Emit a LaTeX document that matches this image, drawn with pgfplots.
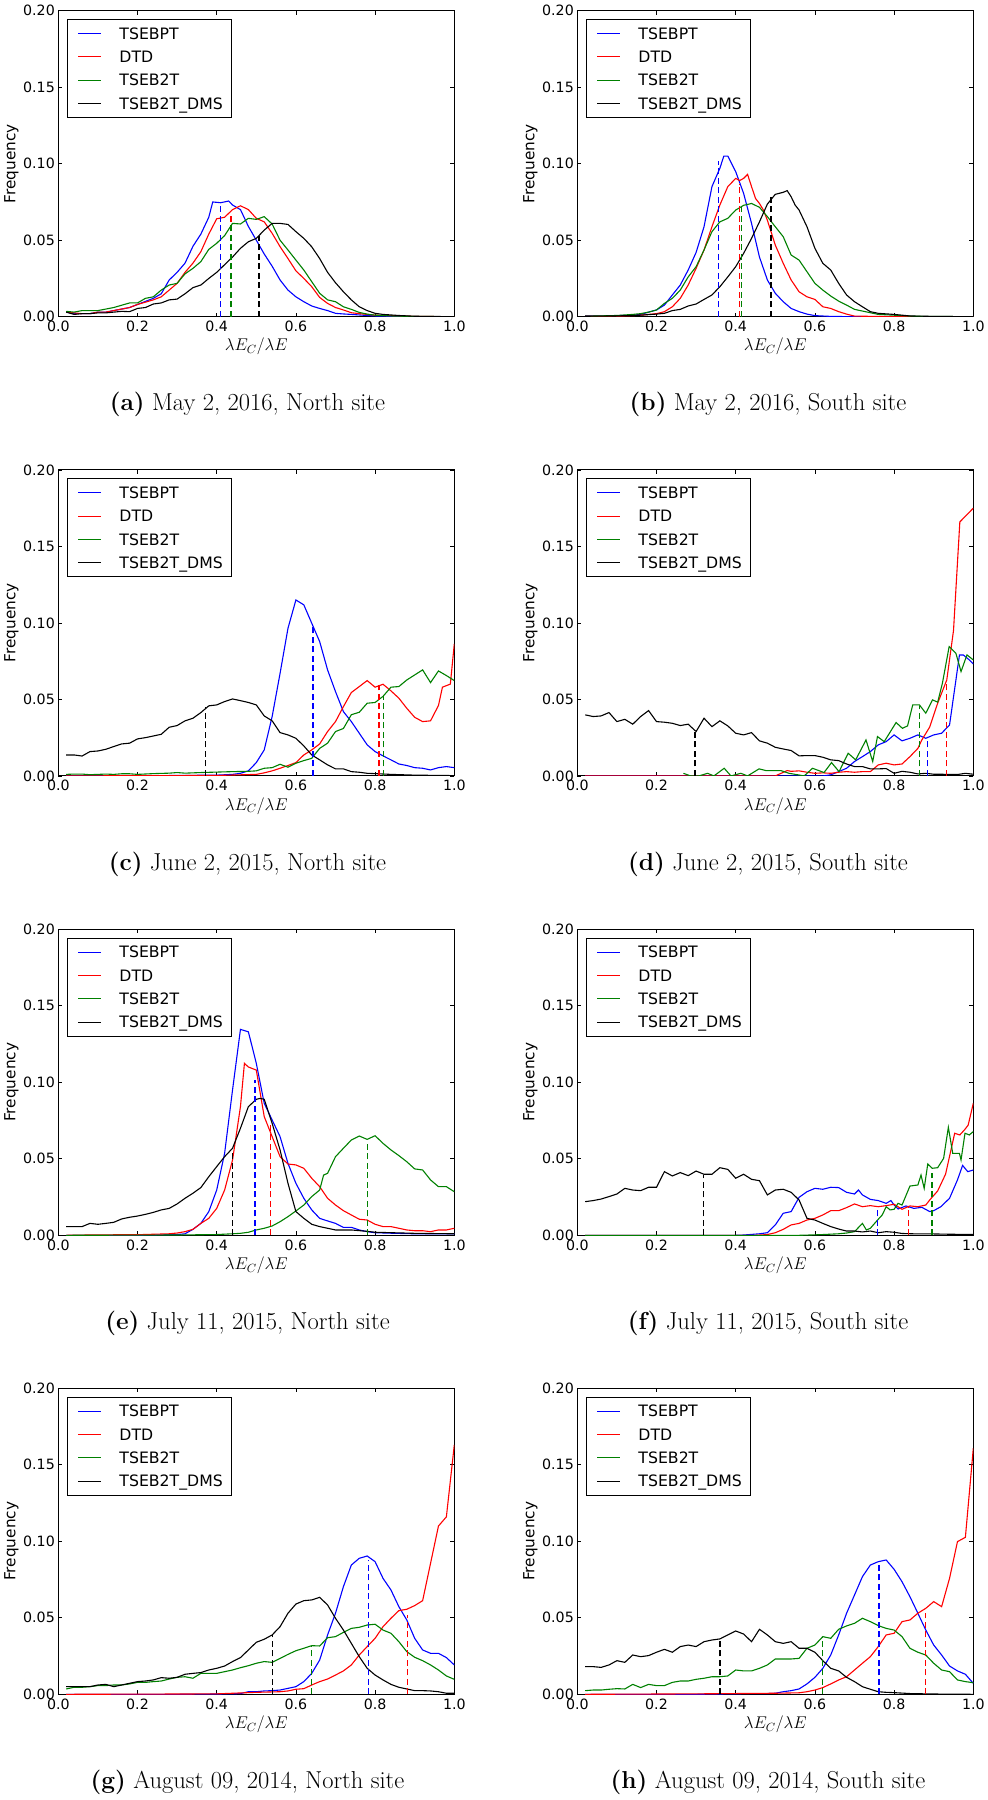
\RequirePackage{fix-cm}
\documentclass[border=0pt]{standalone}
\usepackage{fontspec}
\usepackage{pgfplots}
\pgfplotsset{compat=1.18}
\newfontfamily\dejavu{DejaVu Sans}
\definecolor{mplgreen}{rgb}{0,0.5,0}
\definecolor{mplblue}{rgb}{0,0,1}
\newcommand\tickfont{\dejavu\fontsize{14.2pt}{14.2pt}\selectfont}
\newcommand\legfont{\dejavu\fontsize{15.7pt}{15.7pt}\selectfont}
\newcommand\labfont{\dejavu\fontsize{15.3pt}{15.3pt}\selectfont}
\newcommand\capfont{\fontsize{24.5pt}{29pt}\selectfont}
\pgfplotsset{
  cB/.style={color=mplblue, line width=1.1pt},
  cR/.style={color=red, line width=1.1pt},
  cG/.style={color=mplgreen, line width=1.1pt},
  cK/.style={color=black, line width=1.1pt},
  dsh/.style={line width=1.3pt, dash pattern=on 6pt off 3.5pt, forget plot},
  panel/.style={
    scale only axis, width=396pt, height=306pt,
    xmin=0, xmax=1, ymin=0, ymax=0.2,
    xtick={0,0.2,0.4,0.6,0.8,1}, ytick={0,0.05,0.1,0.15,0.2},
    tick align=inside, major tick length=4pt,
    tick style={black, line width=0.8pt},
    axis line style={black, line width=1pt},
    xticklabel style={font=\tickfont, anchor=north, inner sep=0pt, yshift=-4.3pt,
      /pgf/number format/.cd, fixed, fixed zerofill, precision=1, assume math mode=true},
    yticklabel style={font=\tickfont, anchor=east, inner sep=0pt, xshift=-3.3pt,
      /pgf/number format/.cd, fixed, fixed zerofill, precision=2, assume math mode=true},
    xlabel={$\lambda E_C/\lambda E$},
    ylabel={Frequency},
    every axis x label/.style={at={(axis description cs:0.5,-0.098)}, anchor=center,
      font=\fontsize{17pt}{17pt}\selectfont},
    every axis y label/.style={at={(axis description cs:-0.1187,0.5)}, rotate=90, anchor=center,
      font=\labfont},
    legend style={at={(axis description cs:0.0212,0.9729)}, anchor=north west,
      draw=black, line width=1pt, fill=white,
      inner xsep=8.8pt, inner ysep=8.4pt, row sep=11.9pt, column sep=17.6pt,
      font=\legfont, nodes={inner sep=0pt, text height=11.4pt, text depth=0pt}},
    legend cell align=left,
    legend image code/.code={\path (0pt,0pt); \draw[##1] (1.5pt,0pt) -- (24.8pt,0pt);},
  }
}
\begin{document}
\begin{tikzpicture}
\useasboundingbox (0pt,0pt) rectangle (988pt,-1800pt);

% ---------------- (a)
\begin{axis}[panel, at={(58.3pt,-10.7pt)}, anchor=north west]
\addplot[cB] coordinates {(0.02,0.003)(0.04,0.002)(0.06,0.002)(0.08,0.002)(0.10,0.003)(0.12,0.003)(0.14,0.004)(0.16,0.005)(0.18,0.006)(0.20,0.008)(0.22,0.010)(0.24,0.012)(0.26,0.015)(0.28,0.024)(0.30,0.029)(0.32,0.035)(0.34,0.046)(0.36,0.054)(0.38,0.065)(0.39,0.075)(0.41,0.0745)(0.43,0.0756)(0.44,0.073)(0.46,0.070)(0.48,0.059)(0.50,0.050)(0.52,0.041)(0.54,0.033)(0.56,0.024)(0.58,0.0174)(0.60,0.013)(0.62,0.0098)(0.64,0.007)(0.66,0.0054)(0.68,0.004)(0.70,0.0022)(0.72,0.0018)(0.74,0.0015)(0.78,0.0008)(0.80,0.0005)(0.85,0.0002)(0.90,0)(1.0,0)};
\addplot[cR] coordinates {(0.02,0.003)(0.04,0.0025)(0.06,0.002)(0.08,0.002)(0.10,0.003)(0.12,0.003)(0.14,0.004)(0.16,0.005)(0.18,0.006)(0.20,0.008)(0.22,0.0095)(0.24,0.011)(0.26,0.013)(0.28,0.0174)(0.30,0.0218)(0.32,0.029)(0.34,0.035)(0.36,0.0425)(0.38,0.054)(0.40,0.064)(0.42,0.065)(0.44,0.070)(0.46,0.0725)(0.48,0.070)(0.50,0.0643)(0.52,0.062)(0.54,0.0545)(0.56,0.0458)(0.58,0.038)(0.60,0.030)(0.62,0.025)(0.64,0.0196)(0.66,0.0126)(0.68,0.0087)(0.70,0.006)(0.72,0.0044)(0.74,0.0026)(0.76,0.002)(0.80,0.001)(0.90,0.0002)(1.0,0)};
\addplot[cG] coordinates {(0.02,0.0035)(0.04,0.003)(0.06,0.004)(0.08,0.004)(0.10,0.004)(0.12,0.005)(0.14,0.006)(0.16,0.0075)(0.18,0.009)(0.20,0.009)(0.22,0.012)(0.24,0.013)(0.26,0.0174)(0.28,0.0207)(0.30,0.0218)(0.32,0.028)(0.34,0.0316)(0.36,0.036)(0.38,0.044)(0.40,0.048)(0.42,0.053)(0.44,0.061)(0.46,0.0606)(0.48,0.0643)(0.50,0.0636)(0.52,0.0654)(0.54,0.0606)(0.56,0.050)(0.58,0.0436)(0.60,0.037)(0.62,0.0305)(0.64,0.0229)(0.66,0.0153)(0.68,0.011)(0.70,0.0098)(0.72,0.0065)(0.74,0.0048)(0.76,0.0028)(0.78,0.0017)(0.80,0.001)(0.85,0.0004)(0.90,0.0002)(1.0,0)};
\addplot[cK] coordinates {(0.02,0.003)(0.04,0.0015)(0.06,0.002)(0.08,0.002)(0.10,0.0025)(0.12,0.0025)(0.14,0.003)(0.16,0.0035)(0.18,0.0033)(0.20,0.0054)(0.22,0.006)(0.24,0.0083)(0.26,0.009)(0.28,0.011)(0.30,0.0115)(0.32,0.015)(0.34,0.019)(0.36,0.0207)(0.38,0.025)(0.40,0.029)(0.42,0.034)(0.44,0.039)(0.46,0.0447)(0.48,0.049)(0.50,0.0512)(0.52,0.0566)(0.54,0.061)(0.56,0.061)(0.58,0.0603)(0.60,0.0556)(0.62,0.0512)(0.64,0.0457)(0.66,0.038)(0.68,0.029)(0.70,0.0222)(0.72,0.0163)(0.74,0.011)(0.76,0.0065)(0.78,0.004)(0.80,0.0022)(0.82,0.0015)(0.86,0.0008)(0.90,0.0003)(1.0,0)};
\legend{TSEBPT,DTD,TSEB2T,TSEB2T\_DMS}
\addplot[cB,dsh] coordinates {(0.410,0)(0.410,0.0745)};
\addplot[cR,dsh] coordinates {(0.436,0)(0.436,0.066)};
\addplot[cG,dsh] coordinates {(0.436,0)(0.436,0.061)};
\addplot[cK,dsh] coordinates {(0.507,0)(0.507,0.053)};
\end{axis}

% ---------------- (b)
\begin{axis}[panel, at={(577.3pt,-10.7pt)}, anchor=north west]
\addplot[cB] coordinates {(0.02,0.0005)(0.06,0.0005)(0.10,0.0007)(0.14,0.001)(0.16,0.0015)(0.18,0.003)(0.20,0.0044)(0.22,0.0076)(0.24,0.0142)(0.26,0.0207)(0.28,0.0305)(0.30,0.042)(0.32,0.0588)(0.34,0.085)(0.36,0.097)(0.37,0.105)(0.38,0.105)(0.40,0.0948)(0.42,0.0806)(0.44,0.061)(0.46,0.039)(0.48,0.024)(0.50,0.0153)(0.52,0.0098)(0.54,0.0054)(0.56,0.0033)(0.58,0.0017)(0.60,0.0007)(0.64,0.0002)(0.70,0)(1.0,0)};
\addplot[cR] coordinates {(0.02,0.0003)(0.08,0.0003)(0.12,0.0005)(0.16,0.001)(0.20,0.002)(0.22,0.0033)(0.24,0.0065)(0.26,0.012)(0.28,0.0207)(0.30,0.0316)(0.32,0.0436)(0.34,0.0588)(0.36,0.073)(0.38,0.085)(0.40,0.0904)(0.41,0.089)(0.42,0.0904)(0.43,0.093)(0.44,0.085)(0.45,0.0773)(0.46,0.074)(0.47,0.0697)(0.48,0.063)(0.50,0.0468)(0.52,0.0349)(0.54,0.024)(0.56,0.0163)(0.58,0.013)(0.60,0.0113)(0.62,0.0065)(0.64,0.0054)(0.66,0.0033)(0.68,0.0017)(0.70,0.0004)(0.80,0)(1.0,0)};
\addplot[cG] coordinates {(0.02,0.0003)(0.10,0.0008)(0.14,0.0015)(0.16,0.002)(0.18,0.003)(0.20,0.0044)(0.22,0.0087)(0.24,0.012)(0.26,0.0174)(0.28,0.026)(0.30,0.0327)(0.32,0.0436)(0.34,0.0556)(0.36,0.062)(0.38,0.0643)(0.40,0.0697)(0.42,0.0728)(0.44,0.074)(0.46,0.0715)(0.48,0.0654)(0.50,0.0588)(0.52,0.0523)(0.54,0.0403)(0.56,0.037)(0.58,0.0294)(0.60,0.0218)(0.62,0.0174)(0.64,0.0135)(0.66,0.0102)(0.68,0.0076)(0.70,0.0048)(0.72,0.0037)(0.74,0.0026)(0.76,0.0015)(0.80,0.001)(0.85,0.0003)(1.0,0)};
\addplot[cK] coordinates {(0.02,0.0003)(0.10,0.0005)(0.16,0.001)(0.20,0.0017)(0.22,0.0022)(0.24,0.004)(0.26,0.0048)(0.28,0.007)(0.30,0.0083)(0.32,0.0113)(0.34,0.0142)(0.36,0.0196)(0.38,0.026)(0.40,0.0327)(0.42,0.0414)(0.44,0.0512)(0.46,0.062)(0.48,0.0736)(0.50,0.080)(0.52,0.0813)(0.53,0.0824)(0.54,0.0784)(0.55,0.073)(0.56,0.0697)(0.58,0.0588)(0.60,0.0447)(0.62,0.0349)(0.64,0.0305)(0.66,0.0218)(0.68,0.0142)(0.70,0.0098)(0.72,0.0065)(0.74,0.0033)(0.76,0.0022)(0.80,0.0015)(0.84,0.0005)(0.90,0.0002)(1.0,0)};
\legend{TSEBPT,DTD,TSEB2T,TSEB2T\_DMS}
\addplot[cB,dsh] coordinates {(0.357,0)(0.357,0.1017)};
\addplot[cR,dsh] coordinates {(0.409,0)(0.409,0.087)};
\addplot[cG,dsh] coordinates {(0.415,0)(0.415,0.0736)};
\addplot[cK,dsh] coordinates {(0.489,0)(0.489,0.0795)};
\end{axis}

% ---------------- (c)
\begin{axis}[panel, at={(58.3pt,-469.9pt)}, anchor=north west]
\addplot[cB] coordinates {(0.02,0)(0.20,0)(0.30,0.0003)(0.40,0.0005)(0.44,0.001)(0.46,0.0017)(0.48,0.0033)(0.50,0.0087)(0.52,0.017)(0.54,0.0388)(0.56,0.067)(0.58,0.0965)(0.60,0.115)(0.62,0.1118)(0.64,0.0998)(0.66,0.0878)(0.68,0.0693)(0.70,0.0551)(0.72,0.042)(0.74,0.0355)(0.76,0.0279)(0.78,0.0203)(0.80,0.0159)(0.82,0.0131)(0.84,0.0105)(0.86,0.0078)(0.88,0.0068)(0.90,0.0054)(0.92,0.005)(0.94,0.0039)(0.96,0.0054)(0.98,0.0061)(1.0,0.0054)};
\addplot[cR] coordinates {(0.02,0)(0.40,0.0003)(0.50,0.001)(0.52,0.002)(0.54,0.0033)(0.56,0.005)(0.58,0.0068)(0.60,0.0087)(0.62,0.0137)(0.64,0.017)(0.66,0.0209)(0.68,0.029)(0.70,0.0355)(0.72,0.0453)(0.74,0.0545)(0.76,0.0584)(0.78,0.0623)(0.80,0.058)(0.82,0.0599)(0.84,0.0556)(0.86,0.0508)(0.88,0.0442)(0.90,0.0383)(0.92,0.0355)(0.94,0.036)(0.96,0.046)(0.97,0.058)(0.99,0.060)(1.0,0.0863)};
\addplot[cG] coordinates {(0.02,0.001)(0.04,0.0012)(0.06,0.0012)(0.08,0.0008)(0.10,0.001)(0.12,0.0012)(0.14,0.001)(0.16,0.0014)(0.18,0.0014)(0.20,0.001)(0.24,0.0015)(0.28,0.0018)(0.30,0.0022)(0.32,0.0018)(0.36,0.0022)(0.40,0.0025)(0.44,0.0028)(0.48,0.003)(0.50,0.0033)(0.52,0.005)(0.54,0.0054)(0.56,0.0076)(0.58,0.0057)(0.60,0.0083)(0.62,0.01)(0.64,0.0115)(0.66,0.018)(0.68,0.0214)(0.70,0.029)(0.72,0.031)(0.74,0.040)(0.76,0.0416)(0.78,0.0475)(0.80,0.048)(0.82,0.052)(0.84,0.058)(0.86,0.0584)(0.88,0.0627)(0.90,0.066)(0.92,0.0693)(0.94,0.061)(0.96,0.0686)(0.98,0.0656)(1.0,0.0623)};
\addplot[cK] coordinates {(0.02,0.0137)(0.04,0.0137)(0.06,0.013)(0.08,0.0159)(0.10,0.0163)(0.12,0.0174)(0.14,0.0192)(0.16,0.0209)(0.18,0.0214)(0.20,0.0242)(0.22,0.025)(0.24,0.0261)(0.26,0.0272)(0.28,0.0318)(0.30,0.0329)(0.32,0.036)(0.34,0.0377)(0.36,0.0414)(0.38,0.0458)(0.40,0.0464)(0.42,0.0486)(0.44,0.0503)(0.46,0.0492)(0.48,0.048)(0.50,0.0464)(0.52,0.0392)(0.54,0.036)(0.56,0.0283)(0.58,0.0268)(0.60,0.0246)(0.62,0.0196)(0.64,0.0137)(0.66,0.0105)(0.68,0.0072)(0.70,0.0046)(0.72,0.0046)(0.74,0.0028)(0.76,0.0024)(0.78,0.0017)(0.80,0.0015)(0.84,0.001)(0.90,0.0005)(1.0,0.0002)};
\legend{TSEBPT,DTD,TSEB2T,TSEB2T\_DMS}
\addplot[cK,dsh] coordinates {(0.371,0)(0.371,0.0453)};
\addplot[cB,dsh] coordinates {(0.643,0)(0.643,0.0976)};
\addplot[cR,dsh] coordinates {(0.810,0)(0.810,0.0595)};
\addplot[cG,dsh] coordinates {(0.822,0)(0.822,0.052)};
\end{axis}

% ---------------- (d)
\begin{axis}[panel, at={(577.3pt,-469.9pt)}, anchor=north west]
\addplot[cB] coordinates {(0.02,0)(0.62,0)(0.64,0.0007)(0.66,0.0028)(0.68,0.005)(0.70,0.0094)(0.72,0.0126)(0.74,0.0159)(0.76,0.0203)(0.78,0.0224)(0.80,0.0268)(0.82,0.0229)(0.84,0.0246)(0.86,0.0268)(0.88,0.0246)(0.90,0.0268)(0.92,0.0279)(0.94,0.0333)(0.965,0.079)(0.975,0.079)(0.99,0.0758)(1.0,0.0732)};
\addplot[cR] coordinates {(0.02,0)(0.50,0)(0.53,0.0035)(0.54,0.003)(0.56,0.0033)(0.58,0.0024)(0.60,0.0017)(0.62,0.002)(0.64,0.0017)(0.66,0.0024)(0.68,0.0028)(0.70,0.0024)(0.72,0.0028)(0.74,0.0028)(0.76,0.0072)(0.78,0.0083)(0.80,0.0072)(0.82,0.0078)(0.84,0.0126)(0.86,0.018)(0.87,0.0235)(0.89,0.032)(0.91,0.0475)(0.933,0.0627)(0.95,0.095)(0.966,0.166)(1.0,0.175)};
\addplot[cG] coordinates {(0.268,0.0017)(0.286,0.0)(0.307,0.0)(0.329,0.0017)(0.345,0.0)(0.371,0.0050)(0.388,0.0)(0.413,0.0017)(0.430,0.0)(0.459,0.0046)(0.476,0.0035)(0.514,0.0035)(0.535,0.0017)(0.573,0.0)(0.594,0.0050)(0.623,0.0022)(0.642,0.0087)(0.661,0.0028)(0.684,0.0148)(0.703,0.0105)(0.729,0.0235)(0.746,0.0094)(0.758,0.0257)(0.775,0.0224)(0.805,0.0349)(0.821,0.0311)(0.834,0.0327)(0.847,0.0464)(0.864,0.0464)(0.880,0.0410)(0.897,0.0497)(0.910,0.0482)(0.922,0.0606)(0.939,0.0845)(0.956,0.0802)(0.969,0.0682)(0.984,0.0791)(1.0,0.0758)};
\addplot[cK] coordinates {(0.02,0.0399)(0.04,0.0388)(0.06,0.0392)(0.08,0.0414)(0.10,0.0355)(0.12,0.037)(0.14,0.0338)(0.16,0.0388)(0.18,0.0427)(0.20,0.0355)(0.22,0.0351)(0.24,0.0344)(0.26,0.0329)(0.28,0.0338)(0.30,0.029)(0.32,0.0377)(0.34,0.0322)(0.36,0.036)(0.38,0.0327)(0.40,0.0279)(0.42,0.0268)(0.44,0.0283)(0.46,0.0229)(0.48,0.0214)(0.50,0.0187)(0.52,0.0176)(0.54,0.0166)(0.56,0.0131)(0.58,0.0133)(0.60,0.0133)(0.62,0.0122)(0.64,0.0105)(0.66,0.01)(0.68,0.0078)(0.70,0.0061)(0.72,0.0061)(0.74,0.0046)(0.76,0.0046)(0.78,0.0048)(0.80,0.0017)(0.82,0.003)(0.84,0.0024)(0.86,0.0013)(0.88,0.0017)(0.90,0.0011)(0.92,0.0011)(0.94,0.0009)(0.96,0.0009)(0.98,0.0017)(1.0,0.0011)};
\legend{TSEBPT,DTD,TSEB2T,TSEB2T\_DMS}
\addplot[cK,dsh] coordinates {(0.297,0)(0.297,0.0296)};
\addplot[cG,dsh] coordinates {(0.865,0)(0.865,0.046)};
\addplot[cB,dsh] coordinates {(0.885,0)(0.885,0.0246)};
\addplot[cR,dsh] coordinates {(0.933,0)(0.933,0.0627)};
\end{axis}

% ---------------- (e)
\begin{axis}[panel, at={(58.3pt,-929.3pt)}, anchor=north west]
\addplot[cB] coordinates {(0.02,0)(0.20,0)(0.30,0.0005)(0.32,0.001)(0.34,0.0039)(0.36,0.0078)(0.38,0.0155)(0.40,0.0296)(0.42,0.0536)(0.44,0.095)(0.46,0.1346)(0.48,0.133)(0.50,0.1124)(0.52,0.0863)(0.54,0.0754)(0.56,0.0645)(0.58,0.047)(0.60,0.034)(0.62,0.0242)(0.64,0.0166)(0.66,0.0111)(0.68,0.0094)(0.70,0.0078)(0.72,0.0052)(0.74,0.0052)(0.76,0.0035)(0.78,0.0024)(0.80,0.0017)(0.85,0.0013)(0.90,0.001)(1.0,0.001)};
\addplot[cR] coordinates {(0.02,0)(0.10,0.0003)(0.20,0.0004)(0.28,0.001)(0.30,0.0015)(0.32,0.0024)(0.34,0.0039)(0.36,0.0078)(0.38,0.0111)(0.40,0.0176)(0.42,0.0296)(0.44,0.0492)(0.46,0.0841)(0.47,0.1124)(0.48,0.110)(0.50,0.108)(0.52,0.0776)(0.54,0.0645)(0.56,0.0514)(0.58,0.0466)(0.60,0.046)(0.62,0.0438)(0.64,0.0373)(0.66,0.0318)(0.68,0.0242)(0.70,0.0198)(0.72,0.0161)(0.74,0.0133)(0.76,0.0105)(0.78,0.01)(0.80,0.0072)(0.82,0.0057)(0.84,0.0057)(0.86,0.0046)(0.88,0.0035)(0.90,0.003)(0.92,0.003)(0.94,0.0024)(0.96,0.0035)(0.98,0.0035)(1.0,0.0046)};
\addplot[cG] coordinates {(0.02,0)(0.30,0.0002)(0.40,0.0005)(0.44,0.001)(0.46,0.0013)(0.48,0.002)(0.50,0.0035)(0.52,0.0046)(0.54,0.0061)(0.56,0.0089)(0.58,0.0122)(0.60,0.0159)(0.62,0.0198)(0.64,0.0253)(0.66,0.0296)(0.67,0.0394)(0.68,0.0405)(0.70,0.0514)(0.72,0.0569)(0.74,0.0623)(0.76,0.0649)(0.78,0.0627)(0.80,0.0651)(0.82,0.0601)(0.84,0.0558)(0.86,0.0521)(0.88,0.0481)(0.90,0.0434)(0.92,0.0427)(0.94,0.0362)(0.96,0.0318)(0.98,0.0318)(1.0,0.0285)};
\addplot[cK] coordinates {(0.02,0.0057)(0.04,0.0057)(0.06,0.0057)(0.08,0.0078)(0.10,0.0072)(0.12,0.0078)(0.14,0.0085)(0.16,0.0107)(0.18,0.0118)(0.20,0.0126)(0.22,0.0137)(0.24,0.015)(0.26,0.0166)(0.28,0.0176)(0.30,0.0205)(0.32,0.0242)(0.34,0.0275)(0.36,0.0312)(0.38,0.0383)(0.40,0.0449)(0.42,0.0514)(0.44,0.0569)(0.46,0.070)(0.48,0.0841)(0.50,0.0889)(0.51,0.0895)(0.52,0.0889)(0.54,0.0732)(0.56,0.0558)(0.58,0.034)(0.60,0.0155)(0.62,0.0111)(0.64,0.0072)(0.66,0.0057)(0.68,0.0046)(0.70,0.0035)(0.74,0.0035)(0.78,0.0026)(0.80,0.002)(0.90,0.0013)(1.0,0.001)};
\legend{TSEBPT,DTD,TSEB2T,TSEB2T\_DMS}
\addplot[cK,dsh] coordinates {(0.440,0)(0.440,0.0547)};
\addplot[cB,dsh] coordinates {(0.497,0)(0.497,0.1015)};
\addplot[cR,dsh] coordinates {(0.535,0)(0.535,0.0732)};
\addplot[cG,dsh] coordinates {(0.781,0)(0.781,0.062)};
\end{axis}

% ---------------- (f)
\begin{axis}[panel, at={(577.3pt,-929.3pt)}, anchor=north west]
\addplot[cB] coordinates {(0.02,0)(0.40,0)(0.42,0.0002)(0.46,0.001)(0.48,0.0017)(0.50,0.0068)(0.52,0.0144)(0.54,0.0155)(0.56,0.0248)(0.58,0.0285)(0.60,0.0307)(0.62,0.0301)(0.64,0.0314)(0.66,0.0312)(0.68,0.0281)(0.70,0.027)(0.71,0.0296)(0.72,0.0264)(0.74,0.0235)(0.76,0.0227)(0.78,0.0209)(0.792,0.0227)(0.80,0.0198)(0.81,0.0172)(0.83,0.0192)(0.85,0.0176)(0.87,0.0183)(0.89,0.0155)(0.90,0.0161)(0.918,0.0187)(0.94,0.0242)(0.96,0.0362)(0.973,0.0457)(0.986,0.0416)(1.0,0.0427)};
\addplot[cR] coordinates {(0.02,0)(0.45,0)(0.48,0.0005)(0.50,0.0017)(0.52,0.0039)(0.54,0.0068)(0.56,0.0078)(0.58,0.01)(0.60,0.0111)(0.62,0.0133)(0.64,0.0161)(0.66,0.0161)(0.68,0.0181)(0.70,0.0205)(0.72,0.0187)(0.74,0.0194)(0.76,0.0187)(0.78,0.0194)(0.80,0.0203)(0.82,0.017)(0.84,0.0192)(0.86,0.0187)(0.88,0.0198)(0.89,0.0231)(0.91,0.029)(0.93,0.040)(0.953,0.0667)(0.966,0.0656)(0.978,0.069)(0.987,0.072)(1.0,0.0863)};
\addplot[cG] coordinates {(0.02,0)(0.56,0)(0.60,0.0003)(0.62,0.0005)(0.66,0.001)(0.68,0.0015)(0.70,0.0024)(0.72,0.0078)(0.73,0.0035)(0.74,0.0046)(0.76,0.0105)(0.77,0.0133)(0.78,0.0187)(0.79,0.0166)(0.80,0.017)(0.81,0.0209)(0.82,0.0198)(0.84,0.0322)(0.86,0.0329)(0.868,0.0394)(0.876,0.0307)(0.885,0.0466)(0.896,0.0438)(0.91,0.0442)(0.925,0.0503)(0.937,0.0706)(0.948,0.0536)(0.965,0.0536)(0.969,0.0492)(0.979,0.0667)(0.99,0.0656)(1.0,0.0678)};
\addplot[cK] coordinates {(0.02,0.022)(0.04,0.0227)(0.06,0.0237)(0.08,0.0253)(0.10,0.027)(0.12,0.0307)(0.14,0.0296)(0.16,0.0292)(0.18,0.0314)(0.20,0.0314)(0.22,0.0416)(0.24,0.0388)(0.26,0.041)(0.28,0.039)(0.30,0.042)(0.32,0.0399)(0.34,0.0399)(0.36,0.0442)(0.38,0.0431)(0.40,0.0373)(0.42,0.0399)(0.44,0.0366)(0.46,0.0357)(0.48,0.0264)(0.50,0.0296)(0.52,0.0301)(0.54,0.0281)(0.56,0.0231)(0.58,0.0111)(0.60,0.01)(0.62,0.0078)(0.64,0.0057)(0.66,0.0041)(0.68,0.0028)(0.70,0.0028)(0.72,0.0022)(0.74,0.0028)(0.76,0.0017)(0.78,0.0024)(0.80,0.002)(0.82,0.0012)(0.86,0.0009)(0.90,0.0009)(0.94,0.0007)(0.98,0.0006)(1.0,0.0006)};
\legend{TSEBPT,DTD,TSEB2T,TSEB2T\_DMS}
\addplot[cK,dsh] coordinates {(0.318,0)(0.318,0.0394)};
\addplot[cB,dsh] coordinates {(0.758,0)(0.758,0.0176)};
\addplot[cR,dsh] coordinates {(0.837,0)(0.837,0.0187)};
\addplot[cG,dsh] coordinates {(0.896,0)(0.896,0.041)};
\end{axis}

% ---------------- (g)
\begin{axis}[panel, at={(58.3pt,-1388.3pt)}, anchor=north west]
\addplot[cB] coordinates {(0.02,0)(0.30,0)(0.44,0.0003)(0.46,0.0005)(0.48,0.0017)(0.50,0.0017)(0.52,0.0022)(0.54,0.0024)(0.56,0.0028)(0.58,0.0039)(0.60,0.005)(0.62,0.0083)(0.64,0.0137)(0.66,0.0224)(0.68,0.0388)(0.70,0.053)(0.72,0.0704)(0.74,0.0845)(0.76,0.0889)(0.78,0.0904)(0.80,0.0867)(0.82,0.0758)(0.84,0.0682)(0.86,0.0573)(0.88,0.0486)(0.90,0.0366)(0.92,0.029)(0.94,0.0268)(0.96,0.0268)(0.98,0.024)(1.0,0.0192)};
\addplot[cR] coordinates {(0.02,0)(0.30,0.0002)(0.40,0.0003)(0.50,0.0013)(0.56,0.0017)(0.58,0.0022)(0.60,0.0033)(0.62,0.0037)(0.64,0.0061)(0.66,0.0083)(0.68,0.01)(0.70,0.0126)(0.72,0.0153)(0.74,0.0192)(0.76,0.0257)(0.78,0.0312)(0.80,0.0366)(0.82,0.0442)(0.84,0.0497)(0.86,0.0547)(0.88,0.0556)(0.90,0.058)(0.92,0.0612)(0.94,0.0856)(0.96,0.11)(0.98,0.116)(1.0,0.163)};
\addplot[cG] coordinates {(0.02,0.0035)(0.04,0.0046)(0.06,0.0046)(0.08,0.005)(0.10,0.0057)(0.12,0.0057)(0.14,0.0061)(0.16,0.0061)(0.18,0.0068)(0.20,0.0078)(0.22,0.0078)(0.24,0.0083)(0.26,0.0087)(0.28,0.01)(0.30,0.0111)(0.32,0.0115)(0.34,0.0105)(0.36,0.0137)(0.38,0.0137)(0.40,0.0137)(0.42,0.0148)(0.44,0.0159)(0.46,0.0174)(0.48,0.0187)(0.50,0.0203)(0.52,0.0214)(0.54,0.0209)(0.56,0.0235)(0.58,0.0261)(0.60,0.0285)(0.62,0.0301)(0.64,0.0318)(0.66,0.0316)(0.68,0.037)(0.70,0.0377)(0.72,0.0405)(0.74,0.0431)(0.76,0.0438)(0.78,0.0453)(0.80,0.0458)(0.82,0.042)(0.84,0.0399)(0.86,0.0344)(0.88,0.0279)(0.90,0.0242)(0.92,0.022)(0.94,0.0192)(0.96,0.0159)(0.98,0.012)(1.0,0.0098)};
\addplot[cK] coordinates {(0.02,0.005)(0.04,0.005)(0.06,0.005)(0.08,0.005)(0.10,0.0061)(0.12,0.0065)(0.14,0.005)(0.16,0.0061)(0.18,0.0072)(0.20,0.0083)(0.22,0.0087)(0.24,0.0094)(0.26,0.0109)(0.28,0.0105)(0.30,0.0111)(0.32,0.0131)(0.34,0.0137)(0.36,0.0142)(0.38,0.0159)(0.40,0.017)(0.42,0.0185)(0.44,0.0214)(0.46,0.024)(0.48,0.029)(0.50,0.034)(0.52,0.036)(0.54,0.0388)(0.56,0.0442)(0.58,0.053)(0.60,0.059)(0.62,0.0612)(0.64,0.0617)(0.66,0.0634)(0.68,0.0584)(0.70,0.0497)(0.72,0.042)(0.74,0.0333)(0.76,0.0246)(0.78,0.017)(0.80,0.0126)(0.82,0.0094)(0.84,0.0065)(0.86,0.0046)(0.88,0.0035)(0.90,0.0024)(0.92,0.0024)(0.94,0.0022)(0.96,0.0017)(0.98,0.0007)(1.0,0.0007)};
\legend{TSEBPT,DTD,TSEB2T,TSEB2T\_DMS}
\addplot[cK,dsh] coordinates {(0.541,0)(0.541,0.0388)};
\addplot[cG,dsh] coordinates {(0.640,0)(0.640,0.0318)};
\addplot[cB,dsh] coordinates {(0.783,0)(0.783,0.0878)};
\addplot[cR,dsh] coordinates {(0.882,0)(0.882,0.0519)};
\end{axis}

% ---------------- (h)
\begin{axis}[panel, at={(577.3pt,-1388.3pt)}, anchor=north west]
\addplot[cB] coordinates {(0.02,0)(0.30,0)(0.44,0.0005)(0.48,0.0005)(0.50,0.0007)(0.52,0.0017)(0.54,0.0024)(0.56,0.0035)(0.58,0.0068)(0.60,0.0111)(0.62,0.017)(0.64,0.0257)(0.66,0.0388)(0.68,0.053)(0.70,0.0649)(0.72,0.0769)(0.74,0.0845)(0.76,0.0867)(0.78,0.0878)(0.80,0.0817)(0.82,0.0736)(0.84,0.0638)(0.86,0.053)(0.88,0.042)(0.90,0.0322)(0.92,0.0257)(0.94,0.0185)(0.96,0.0153)(0.98,0.0131)(1.0,0.0072)};
\addplot[cR] coordinates {(0.02,0)(0.30,0.0003)(0.50,0.0007)(0.56,0.001)(0.58,0.0017)(0.60,0.0028)(0.62,0.0044)(0.64,0.0068)(0.66,0.0094)(0.68,0.0115)(0.70,0.0159)(0.72,0.0203)(0.74,0.0246)(0.76,0.0312)(0.78,0.0388)(0.80,0.0399)(0.82,0.0475)(0.84,0.0486)(0.86,0.053)(0.88,0.0562)(0.90,0.0606)(0.92,0.0573)(0.94,0.0758)(0.96,0.0998)(0.98,0.1026)(1.0,0.1608)};
\addplot[cG] coordinates {(0.02,0.0024)(0.04,0.0028)(0.06,0.0028)(0.08,0.0033)(0.10,0.0037)(0.12,0.0035)(0.14,0.0065)(0.16,0.0044)(0.18,0.0065)(0.20,0.0057)(0.22,0.0057)(0.24,0.0078)(0.26,0.0087)(0.28,0.0087)(0.30,0.0098)(0.32,0.0105)(0.34,0.0115)(0.36,0.0115)(0.38,0.012)(0.40,0.0159)(0.42,0.0153)(0.44,0.0153)(0.46,0.017)(0.48,0.0192)(0.50,0.0231)(0.52,0.0231)(0.54,0.0231)(0.56,0.0235)(0.58,0.0301)(0.60,0.0322)(0.62,0.0377)(0.64,0.0366)(0.66,0.0425)(0.68,0.0447)(0.70,0.0464)(0.72,0.0497)(0.74,0.0475)(0.76,0.0449)(0.78,0.0431)(0.80,0.042)(0.82,0.0377)(0.84,0.0301)(0.86,0.0275)(0.88,0.0257)(0.90,0.0203)(0.92,0.0159)(0.94,0.0148)(0.96,0.0094)(0.98,0.0083)(1.0,0.0076)};
\addplot[cK] coordinates {(0.02,0.0181)(0.04,0.0181)(0.06,0.0176)(0.08,0.0192)(0.10,0.022)(0.12,0.0209)(0.14,0.0257)(0.16,0.0246)(0.18,0.0253)(0.20,0.0275)(0.22,0.0294)(0.24,0.0275)(0.26,0.0312)(0.28,0.0322)(0.30,0.0312)(0.32,0.0344)(0.34,0.0355)(0.36,0.0362)(0.38,0.0388)(0.40,0.0414)(0.42,0.0394)(0.44,0.0344)(0.46,0.0425)(0.48,0.0388)(0.50,0.0344)(0.52,0.0333)(0.54,0.0344)(0.56,0.0301)(0.58,0.0301)(0.60,0.0275)(0.62,0.022)(0.64,0.017)(0.66,0.0153)(0.68,0.0111)(0.70,0.0083)(0.72,0.005)(0.74,0.0033)(0.76,0.0017)(0.78,0.0013)(0.80,0.0011)(0.84,0.0005)(0.90,0.0002)(1.0,0)};
\legend{TSEBPT,DTD,TSEB2T,TSEB2T\_DMS}
\addplot[cK,dsh] coordinates {(0.360,0)(0.360,0.0366)};
\addplot[cG,dsh] coordinates {(0.619,0)(0.619,0.0377)};
\addplot[cB,dsh] coordinates {(0.762,0)(0.762,0.0867)};
\addplot[cR,dsh] coordinates {(0.880,0)(0.880,0.053)};
\end{axis}

% captions
\node[font=\capfont] at (247.5pt,-404.7pt) {\textbf{(a)} May 2, 2016, North site};
\node[font=\capfont] at (768pt,-404.7pt) {\textbf{(b)} May 2, 2016, South site};
\node[font=\capfont] at (247.5pt,-864pt) {\textbf{(c)} June 2, 2015, North site};
\node[font=\capfont] at (768pt,-864pt) {\textbf{(d)} June 2, 2015, South site};
\node[font=\capfont] at (247.5pt,-1323.3pt) {\textbf{(e)} July 11, 2015, North site};
\node[font=\capfont] at (768pt,-1323.3pt) {\textbf{(f)} July 11, 2015, South site};
\node[font=\capfont] at (247.5pt,-1782.7pt) {\textbf{(g)} August 09, 2014, North site};
\node[font=\capfont] at (768pt,-1782.7pt) {\textbf{(h)} August 09, 2014, South site};
\end{tikzpicture}
\end{document}
